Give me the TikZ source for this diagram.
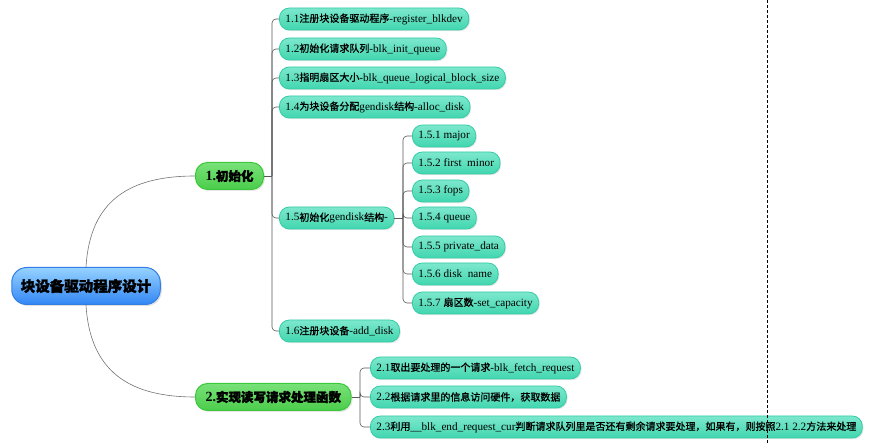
\documentclass[tikz,border=0pt]{standalone}
\usepackage{fontspec}
\setmainfont{Liberation Serif}[Scale=1.12]
\newfontfamily\cjk[FakeBold=1]{Noto Sans CJK SC}
\newfontfamily\cjkb[FakeBold=2]{Noto Sans CJK SC}
\newcommand{\zh}[1]{{\cjk #1}}
\newcommand{\zhb}[1]{{\cjkb #1}}
\usetikzlibrary{shadows}
\definecolor{rootline}{RGB}{50,125,230}
\definecolor{roottop}{RGB}{150,210,255}
\definecolor{rootmid}{RGB}{85,165,250}
\definecolor{rootbot}{RGB}{50,135,245}
\definecolor{topicline}{RGB}{60,200,60}
\definecolor{topictop}{RGB}{120,225,120}
\definecolor{topicmid}{RGB}{160,238,160}
\definecolor{topicbot}{RGB}{75,205,75}
\definecolor{leafline}{RGB}{50,205,165}
\definecolor{leaftop}{RGB}{125,232,205}
\definecolor{leafmid}{RGB}{170,244,228}
\definecolor{leafbot}{RGB}{65,214,175}
\tikzset{
    root/.style={draw=rootline, line width=1pt, rounded corners=15pt, top color=roottop, middle color=rootmid, bottom color=rootbot,
        minimum height=37pt, inner xsep=9pt, font=\fontsize{14.5}{16}\selectfont\bfseries,
        drop shadow={shadow xshift=1.5pt, shadow yshift=-1.5pt, opacity=0.25}}, % nodo centrale
    topic/.style={draw=topicline, line width=1pt, rounded corners=12pt, top color=topictop, middle color=topicmid, bottom color=topicbot,
        minimum height=27pt, inner xsep=10pt, anchor=west, font=\fontsize{12.5}{14}\selectfont\bfseries,
        drop shadow={shadow xshift=1.5pt, shadow yshift=-1.5pt, opacity=0.2}},
    leaf/.style={draw=leafline, line width=0.8pt, rounded corners=10pt, top color=leaftop, middle color=leafmid, bottom color=leafbot,
        minimum height=22pt, inner xsep=6pt, anchor=west, font=\fontsize{10}{12}\selectfont,
        drop shadow={shadow xshift=1.2pt, shadow yshift=-1.2pt, opacity=0.2}},
    stem/.style={draw=black!55, line width=0.6pt},
    branch/.style={draw=black!65, line width=0.6pt, rounded corners=4pt},
    pagebreak/.style={draw=black, line width=0.8pt, dash pattern=on 3pt off 2pt},
}

\begin{document}
\begin{tikzpicture}[x=1pt, y=1pt]
    \useasboundingbox (0,0) rectangle (876,-443);
    % Nodi
    \node[root] (root) at (86,-286) {\zhb{块设备驱动程序设计}};
    \node[topic] (init) at (195,-176) {1.\zhb{初始化}};
    \node[topic] (two) at (195,-397) {2.\zhb{实现读写请求处理函数}};

    \node[leaf] (c11) at (279,-19) {1.1\zh{注册块设备驱动程序}-register\_blkdev};
    \node[leaf] (c12) at (279,-49) {1.2\zh{初始化请求队列}-blk\_init\_queue};
    \node[leaf] (c13) at (279,-78) {1.3\zh{指明扇区大小}-blk\_queue\_logical\_block\_size};
    \node[leaf] (c14) at (279,-107) {1.4\zh{为块设备分配}gendisk\zh{结构}-alloc\_disk};
    \node[leaf] (c15) at (279,-218) {1.5\zh{初始化}gendisk\zh{结构}-};
    \node[leaf] (c16) at (279,-331) {1.6\zh{注册块设备}-add\_disk};

    \node[leaf] (d1) at (412,-136) {1.5.1 major};
    \node[leaf] (d2) at (412,-163) {1.5.2 first\ \ minor};
    \node[leaf] (d3) at (412,-191) {1.5.3 fops};
    \node[leaf] (d4) at (412,-218) {1.5.4 queue};
    \node[leaf] (d5) at (412,-247) {1.5.5 private\_data};
    \node[leaf] (d6) at (412,-274) {1.5.6 disk\ \ name};
    \node[leaf] (d7) at (412,-303) {1.5.7 \zh{扇区数}-set\_capacity};

    \node[leaf] (e1) at (370,-368) {2.1\zh{取出要处理的一个请求}-blk\_fetch\_request};
    \node[leaf] (e2) at (370,-397) {2.2\zh{根据请求里的信息访问硬件，获取数据}};
    \node[leaf] (e3) at (370,-427) {2.3\zh{利用}\_\_blk\_end\_request\_cur\zh{判断请求队列里是否还有剩余请求要处理，如果有，则按照}2.1 2.2\zh{方法来处理}};

    % Rami
    \coordinate (b1) at (272,-176);
    \coordinate (b15) at (403,-218);
    \coordinate (b2) at (360,-397);

    \draw[stem] (root.north) .. controls (90,-200) and (130,-176) .. (init.west);
    \draw[stem] (root.south) .. controls (90,-372) and (130,-397) .. (two.west);

    \draw[branch] (init.east) -- (b1);
    \foreach \n in {c11,c12,c13,c14,c15,c16}
        \draw[branch] (b1) |- (\n.west);
    \draw[branch] (c15.east) -- (b15);
    \foreach \n in {d1,d2,d3,d4,d5,d6,d7}
        \draw[branch] (b15) |- (\n.west);
    \draw[branch] (two.east) -- (b2);
    \foreach \n in {e1,e2,e3}
        \draw[branch] (b2) |- (\n.west);

    % Interruzione di pagina
    \draw[pagebreak] (767,0) -- (767,-443);
\end{tikzpicture}
\end{document}
